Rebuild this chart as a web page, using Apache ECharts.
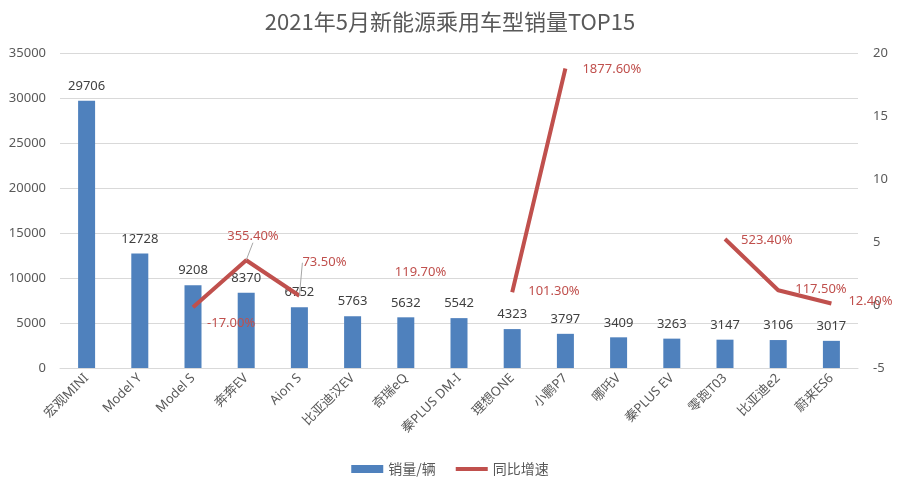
<!DOCTYPE html>
<html><head><meta charset="utf-8">
<script src="https://cdn.jsdelivr.net/npm/echarts@6/dist/echarts.min.js"></script>
<style>html,body{margin:0;padding:0;background:#fff}#c{width:900px;height:491px}</style>
</head><body><div id="c"></div>
<script>
const title = '2021年5月新能源乘用车型销量TOP15';
const categories = ['宏观MINI','Model Y','Model S','奔奔EV','Aion S','比亚迪汉EV','奇瑞eQ','秦PLUS DM-I','理想ONE','小鹏P7','哪吒V','秦PLUS EV','零跑T03','比亚迪e2','蔚来ES6'];
const sales = [29706,12728,9208,8370,6752,5763,5632,5542,4323,3797,3409,3263,3147,3106,3017];
const growth = [null,null,-0.17,3.554,0.735,null,1.197,null,1.013,18.776,null,null,5.234,1.175,0.124];
const salesName = '销量/辆';
const growthName = '同比增速';

const labelShift = {2:[9,16],3:[-24,-24],4:[-2,-33],6:[-16,-18],8:[11,-1],9:[12,1],12:[11,1],13:[12,-1],14:[12,-2]};
const leaderIdx = [3,4];

const FONT = '"Noto Sans", "Noto Sans CJK SC", sans-serif';
const chart = echarts.init(document.getElementById('c'));
chart.setOption({
  animation:false,
  title:{text:title,left:'center',top:6,textStyle:{fontFamily:'"Noto Sans CJK SC", sans-serif',fontSize:22,fontWeight:'normal',color:'#595959'}},
  grid:{left:60,right:42,top:53,bottom:123},
  legend:{bottom:10,left:'center',itemWidth:32,itemHeight:8,itemGap:18,textStyle:{fontFamily:'"Noto Sans CJK SC", sans-serif',fontSize:14,color:'#595959'},
    data:[{name:salesName,icon:'rect'},{name:growthName,itemStyle:{opacity:0},lineStyle:{width:4,color:'#C0504D'}}]},
  xAxis:{type:'category',data:categories,axisTick:{show:false},axisLine:{lineStyle:{color:'#D9D9D9'}},
    axisLabel:{rotate:45,interval:0,fontFamily:FONT,fontSize:13,color:'#595959',margin:8}},
  yAxis:[
    {type:'value',min:0,max:35000,interval:5000,axisLine:{show:false},axisTick:{show:false},
     splitLine:{lineStyle:{color:'#D9D9D9'}},axisLabel:{fontFamily:FONT,fontSize:13,color:'#595959',margin:14,formatter:v=>String(v)}},
    {type:'value',min:-5,max:20,interval:5,axisLine:{show:false},axisTick:{show:false},
     splitLine:{show:false},axisLabel:{fontFamily:FONT,fontSize:13,color:'#595959',margin:15,formatter:v=>String(v)}}
  ],
  series:[
    {name:salesName,type:'bar',data:sales,barWidth:17,itemStyle:{color:'#4F81BD'},
     label:{show:true,position:'top',distance:8,fontFamily:FONT,fontSize:13,color:'#404040'}},
    {name:growthName,type:'line',yAxisIndex:1,
     data:growth.map((v,i)=>({value:v,labelLine:{show:leaderIdx.includes(i),lineStyle:{color:'#A6A6A6',width:1}}})),
     connectNulls:false,showSymbol:true,symbol:'circle',symbolSize:0.01,
     itemStyle:{color:'#C0504D'},lineStyle:{color:'#C0504D',width:4},
     label:{show:true,position:'right',distance:5,fontFamily:FONT,fontSize:13,color:'#C0504D',
       formatter:p=>p.value==null?'':(p.value*100).toFixed(2)+'%'},
     labelLine:{show:false},
     labelLayout:p=>{const s=labelShift[p.dataIndex]||[0,0];return {dx:s[0],dy:s[1]};}
    }
  ]
});
</script></body></html>
